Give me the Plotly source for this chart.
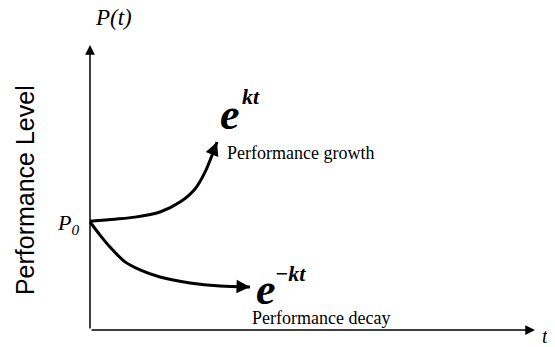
import plotly.graph_objects as go

# Schematic curves (t in arbitrary units, P in arbitrary units)
t_growth = [0, 0.562, 1.011, 1.573, 2.022, 2.360, 2.584, 2.854]
p_growth = [3.82, 3.89, 3.96, 4.14, 4.49, 4.95, 5.54, 6.60]
t_decay = [0, 0.225, 0.449, 0.787, 1.124, 1.573, 2.247, 2.921, 3.596]
p_decay = [3.79, 3.33, 2.91, 2.39, 2.11, 1.86, 1.65, 1.54, 1.51]
P0 = 3.8
T_MAX = 10
P_MAX = 10

SERIF = "Liberation Serif"
SANS = "Liberation Sans"

fig = go.Figure()
for tt, pp in [(t_growth, p_growth), (t_decay, p_decay)]:
    fig.add_trace(go.Scatter(x=tt, y=pp, mode="lines",
                             line=dict(color="black", width=3, shape="spline", smoothing=0.8),
                             hoverinfo="skip", showlegend=False))

ann = []
# axes arrows
ann.append(dict(x=0, y=P_MAX, ax=0, ay=0, xref="x", yref="y", axref="x", ayref="y",
                showarrow=True, arrowhead=2, arrowsize=1.3, arrowwidth=1.5,
                arrowcolor="black", text="", standoff=0, startstandoff=0))
ann.append(dict(x=T_MAX, y=0, ax=0, ay=0, xref="x", yref="y", axref="x", ayref="y",
                showarrow=True, arrowhead=2, arrowsize=1.3, arrowwidth=1.5,
                arrowcolor="black", text="", standoff=0, startstandoff=0))
# curve arrowheads
for tt, pp in [(t_growth, p_growth), (t_decay, p_decay)]:
    x1, y1 = tt[-1], pp[-1]
    x0, y0 = tt[-2], pp[-2]
    ax = x1 - (x1 - x0) * 0.4
    ay = y1 - (y1 - y0) * 0.4
    ann.append(dict(x=x1, y=y1, ax=ax, ay=ay, xref="x", yref="y", axref="x", ayref="y",
                    showarrow=True, arrowhead=2, arrowsize=0.9, arrowwidth=3,
                    arrowcolor="black", text="", standoff=0))

def txt(x, y, s, size, family=SERIF, xanchor="center", yanchor="middle", angle=0):
    ann.append(dict(x=x, y=y, xref="x", yref="y", text=s, showarrow=False,
                    xanchor=xanchor, yanchor=yanchor, textangle=angle,
                    font=dict(family=family, size=size, color="black")))

txt(0.52, 10.98, "<i>P(t)</i>", 23)
txt(-1.46, 4.91, "Performance Level", 25, family=SANS, angle=-90)
txt(-0.2, P0 - 0.08, "<i>P<sub>0</sub></i>", 22, xanchor="right")
txt(10.22, -0.21, "<i>t</i>", 20)
# growth label
txt(3.14, 7.57, "<b><i>e</i></b>", 44)
txt(3.37, 8.18, "<b><i>kt</i></b>", 22, xanchor="left")
txt(3.03, 6.21, "Performance growth", 18, xanchor="left")
# decay label
txt(3.95, 1.43, "<b><i>e</i></b>", 44)
txt(4.12, 2.0, "<b><i>−kt</i></b>", 22, xanchor="left")
txt(3.6, 0.42, "Performance decay", 18, xanchor="left")

# page has an 8px body margin; ranges compensate so the drawing lands in place
fig.update_layout(
    width=555, height=347,
    margin=dict(l=0, r=0, t=0, b=0),
    paper_bgcolor="white", plot_bgcolor="white",
    xaxis=dict(range=[-1.843, 10.629], visible=False, fixedrange=True),
    yaxis=dict(range=[-0.877, 11.298], visible=False, fixedrange=True),
    annotations=ann,
    showlegend=False,
)
fig.write_html("out.html")
